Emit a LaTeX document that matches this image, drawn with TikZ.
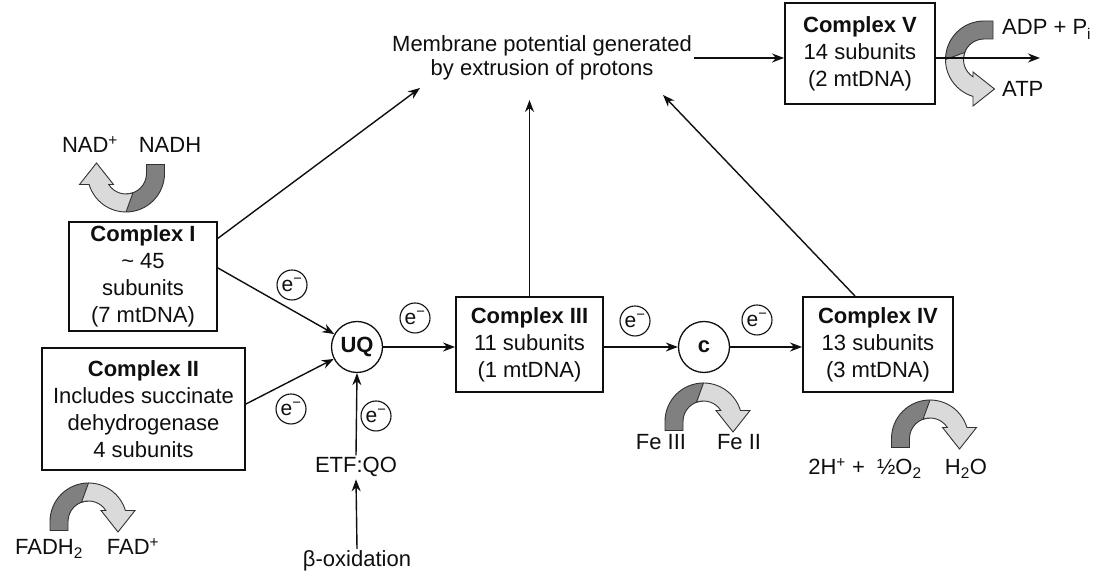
\documentclass[tikz,border=0pt]{standalone}
\usepackage{fontspec}
\setmainfont{Liberation Sans}
\usetikzlibrary{arrows.meta}
\definecolor{darkrib}{RGB}{128,128,128}
\definecolor{lightrib}{RGB}{218,218,218}
\definecolor{ribline}{RGB}{50,50,50}
\definecolor{ink}{RGB}{15,15,15}
\newcommand{\ribbonarrow}[1]{%
  \begin{scope}[#1]
    \filldraw[fill=darkrib, draw=ribline, line width=0.9pt]
      (-38.5,-9) -- (-38.5,0) arc[start angle=180,end angle=90,radius=38.5]
      -- (0,20.5) arc[start angle=90,end angle=180,radius=20.5] -- (-20.5,-9) -- cycle;
    \filldraw[fill=lightrib, draw=ribline, line width=0.9pt]
      (0,38.5) arc[start angle=90,end angle=16.6,radius=38.5]
      -- (46.5,11) -- (29.5,-10.5) -- (12.5,11) -- (17.3,11)
      arc[start angle=32.4,end angle=110,radius=20.5] -- cycle;
  \end{scope}}
\begin{document}
\begin{tikzpicture}[x=1pt,y=1pt,
  every node/.style={font=\fontsize{22}{27}\selectfont, text=ink},
  box/.style={draw=ink, line width=1.9pt, align=center, inner sep=0pt},
  arr/.style={draw=ink, line width=1.4pt, -{Stealth[length=12pt,width=9pt]}},
  ecirc/.style={draw=ink, circle, line width=1.1pt, minimum size=30pt, inner sep=0pt, font=\fontsize{21}{24}\selectfont},
  bigcirc/.style={draw=ink, circle, line width=1.3pt, minimum size=51pt, inner sep=0pt, font=\bfseries\fontsize{22}{27}\selectfont},
  lbl/.style={anchor=base, inner sep=2pt}]
\useasboundingbox[fill=white] (0,0) rectangle (1097,580);

% boxes
\node[box, minimum width=148pt, minimum height=109pt] (c1) at (143,303.5)
  {\textbf{Complex I}\\\textasciitilde\ 45\\subunits\\(7 mtDNA)};
\node[box, minimum width=203pt, minimum height=122pt] (c2) at (143.5,171)
  {\textbf{Complex II}\\Includes succinate\\dehydrogenase\\4 subunits};
\node[box, minimum width=147pt, minimum height=95pt] (c3) at (529.5,235.5)
  {\textbf{Complex III}\\11 subunits\\(1 mtDNA)};
\node[box, minimum width=150pt, minimum height=95pt] (c4) at (878,235.5)
  {\textbf{Complex IV}\\13 subunits\\(3 mtDNA)};
\node[box, minimum width=150pt, minimum height=101pt] (c5) at (860,526.5)
  {\textbf{Complex V}\\14 subunits\\(2 mtDNA)};

\node[align=center, font=\fontsize{22}{24}\selectfont, inner sep=2pt] (mem) at (542,522)
  {Membrane potential generated\\by extrusion of protons};

% circles
\node[bigcirc] (uq) at (357,233) {UQ};
\node[bigcirc] (cc) at (704,233) {c};

\node[ecirc] (e1) at (292,295) {e\textsuperscript{−}};
\node[ecirc] (e2) at (291,171) {e\textsuperscript{−}};
\node[ecirc] (e3) at (376,164) {e\textsuperscript{−}};
\node[ecirc] (e4) at (415,262) {e\textsuperscript{−}};
\node[ecirc] (e5) at (635,259) {e\textsuperscript{−}};
\node[ecirc] (e6) at (757,260) {e\textsuperscript{−}};

% labels
\node[lbl] (nadp) at (90,427) {NAD\textsuperscript{+}};
\node[lbl] (nadh) at (170,427) {NADH};
\node[lbl, anchor=base west] (adp) at (1000,545) {ADP + P\textsubscript{i}};
\node[lbl, anchor=base west] (atp) at (1000,483) {ATP};
\node[lbl] (fe3) at (661,130) {Fe III};
\node[lbl] (fe2) at (739,130) {Fe II};
\node[lbl] (hplus) at (865,105) {2H\textsuperscript{+} +\ \ ½O\textsubscript{2}};
\node[lbl] (h2o) at (966,105) {H\textsubscript{2}O};
\node[lbl] (fadh) at (49,25) {FADH\textsubscript{2}};
\node[lbl] (fad) at (133,25) {FAD\textsuperscript{+}};
\node[lbl] (etf) at (356,107) {ETF:QO};
\node[lbl] (beta) at (357,13) {β-oxidation};

% ribbon arrows
\ribbonarrow{shift={(126,406.5)}, rotate=180}
\ribbonarrow{shift={(703.5,158.5)}}
\ribbonarrow{shift={(930,141.5)}}
\ribbonarrow{shift={(88.5,58.5)}}
\ribbonarrow{shift={(984,520.5)}, cm={0,-1,-1,0,(0,0)}}

% connector end points
\coordinate (memL) at (420,492);
\coordinate (memM) at (529.5,480);
\coordinate (memR) at (663,485);
\coordinate (atpEnd) at (1040,522);

% connectors
\draw[arr] (c1.27) -- (memL);
\draw[arr] (c3.north) -- (memM);
\draw[arr] ([xshift=-23pt]c4.north) -- (memR);
\draw[arr] (mem.east) -- (mem.east -| c5.west);
\draw[arr] (c5.east |- atpEnd) -- (atpEnd);
\draw[arr] ([yshift=8.5pt]c1.east) -- (uq);
\draw[arr] ([yshift=5pt]c2.east) -- (uq);
\draw[arr] (etf.north) -- (uq.south);
\draw[arr] (beta.north) -- (etf.south);
\draw[arr] (uq.east) -- (uq.east -| c3.west);
\draw[arr] (c3.east |- cc.west) -- (cc.west);
\draw[arr] (cc.east) -- (cc.east -| c4.west);
\end{tikzpicture}
\end{document}
